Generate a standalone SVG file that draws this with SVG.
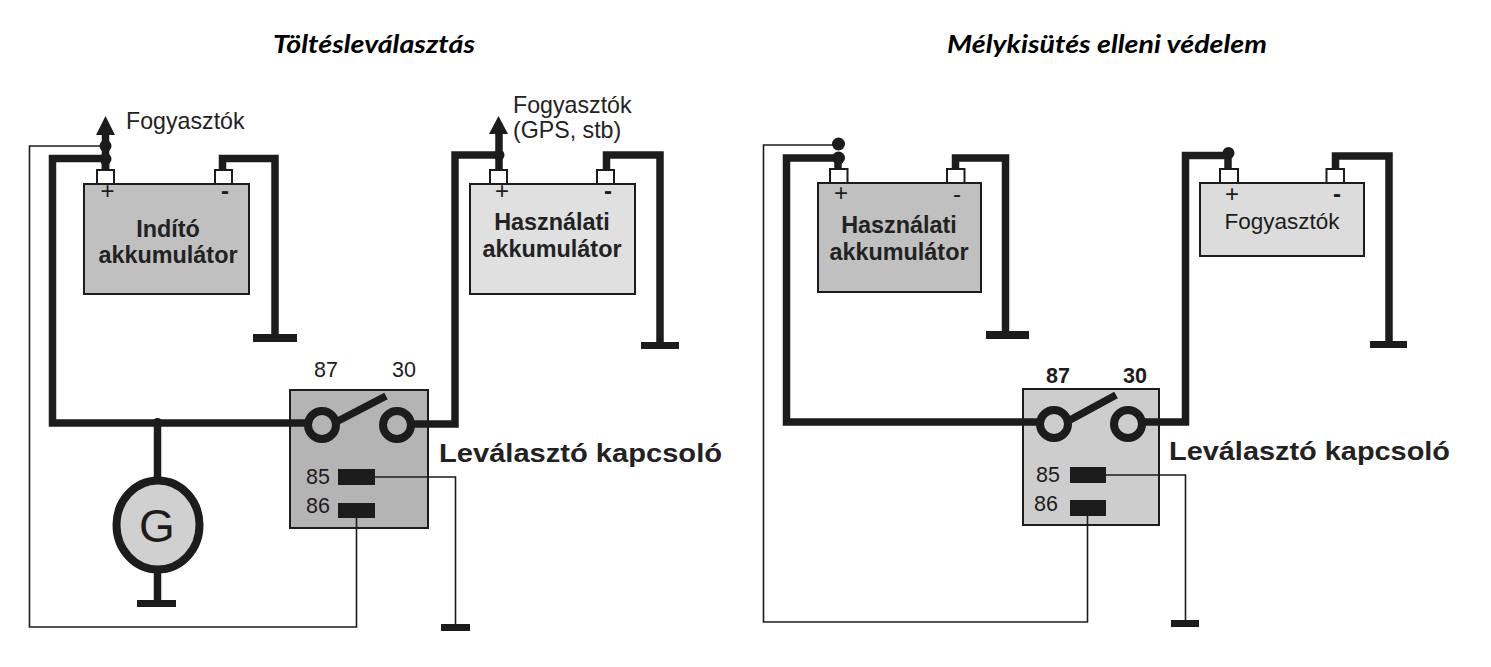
<svg xmlns="http://www.w3.org/2000/svg" width="1491" height="667" viewBox="0 0 1491 667">
<style>
text{font-family:"Liberation Sans",Arial,sans-serif;fill:#1c1c1c}
.title{font-family:Lato,"Liberation Sans",sans-serif;font-weight:700;font-style:italic;font-size:24px;fill:#000}
.lbl{font-size:23.200px;fill:#222}
.num{font-size:21.500px;text-anchor:middle}
.numb{font-size:21.500px;font-weight:700;text-anchor:middle}
.batt{font-size:23.400px;font-weight:700;text-anchor:middle;fill:#222}
.rel{font-size:25px;font-weight:700;fill:#222}
.sign{font-size:24px;text-anchor:middle}
.box{stroke:#1c1c1c;stroke-width:2}
.term{fill:#fff;stroke:#1c1c1c;stroke-width:2}
.thick{fill:none;stroke:#1c1c1c;stroke-width:7.500}
.thin{fill:none;stroke:#1c1c1c;stroke-width:1.600}
.blk{fill:#1c1c1c}
.ring{fill:none;stroke:#1c1c1c;stroke-width:8}
</style>
<text class="title" x="273" y="53" textLength="202" lengthAdjust="spacingAndGlyphs">Töltésleválasztás</text>
<text class="title" x="947" y="53" textLength="320" lengthAdjust="spacingAndGlyphs">Mélykisütés elleni védelem</text>

<g id="battery-indito">
<rect class="box" x="84" y="184" width="165" height="110" fill="#c0c0c0"/>
<rect class="term" x="97" y="170" width="17" height="14"/><rect class="term" x="215" y="170" width="17" height="14"/>
<text class="sign" x="107.500" y="199">+</text><text class="sign" x="225" y="199" font-weight="700">-</text>
<text class="batt" x="168" y="237">Indító</text><text class="batt" x="168" y="263">akkumulátor</text>
</g>
<g id="battery-hasznalati-1">
<rect class="box" x="470" y="184" width="165" height="110" fill="#e0e0e0"/>
<rect class="term" x="490" y="170" width="17" height="14"/><rect class="term" x="597" y="170" width="17" height="14"/>
<text class="sign" x="502" y="199">+</text><text class="sign" x="608" y="199" font-weight="700">-</text>
<text class="batt" x="552" y="230">Használati</text><text class="batt" x="552" y="257">akkumulátor</text>
</g>
<g id="label-fogyasztok-1"><text class="lbl" x="126" y="129">Fogyasztók</text></g>
<g id="label-fogyasztok-2"><text class="lbl" x="513" y="113">Fogyasztók</text><text class="lbl" x="513" y="138">(GPS, stb)</text></g>

<g id="relay-1">
<rect class="box" x="290" y="390" width="138" height="138" fill="#b4b4b4"/>
<circle class="ring" cx="322" cy="425" r="14"/><circle class="ring" cx="397" cy="425" r="14"/>
<path class="thick" d="M338 421L386 396"/>
<rect class="blk" x="338" y="469" width="37" height="16"/><rect class="blk" x="338" y="503" width="37" height="15"/>
<text class="num" x="326" y="377">87</text><text class="num" x="404" y="377">30</text>
<text class="num" x="318" y="484">85</text><text class="num" x="318" y="513">86</text>
<text class="rel" x="439" y="462" textLength="283" lengthAdjust="spacingAndGlyphs">Leválasztó kapcsoló</text>
</g>
<g id="generator">
<ellipse cx="158" cy="525" rx="41.500" ry="44.500" fill="#d0d0d0" stroke="#1c1c1c" stroke-width="8"/>
<text x="157" y="542" font-size="46" text-anchor="middle">G</text>
</g>

<g id="battery-hasznalati-2">
<rect class="box" x="818" y="183" width="163" height="109" fill="#c0c0c0"/>
<rect class="term" x="830" y="169" width="17.500" height="14"/><rect class="term" x="947" y="169" width="17.500" height="14"/>
<text class="sign" x="841" y="201">+</text><text class="sign" x="957" y="202">-</text>
<text class="batt" x="899" y="233">Használati</text><text class="batt" x="899" y="260">akkumulátor</text>
</g>
<g id="box-fogyasztok">
<rect class="box" x="1200" y="183" width="164" height="73" fill="#dcdcdc"/>
<rect class="term" x="1220" y="169" width="18" height="14"/><rect class="term" x="1326.500" y="169" width="17.500" height="14"/>
<text class="sign" x="1232" y="202">+</text><text class="sign" x="1337" y="202" font-weight="700">-</text>
<text x="1282" y="229" font-size="22.500" text-anchor="middle" fill="#333">Fogyasztók</text>
</g>
<g id="relay-2">
<rect class="box" x="1023" y="389" width="136" height="136" fill="#cdcdcd"/>
<circle class="ring" cx="1054" cy="424" r="14"/><circle class="ring" cx="1128" cy="424" r="14"/>
<path class="thick" d="M1070 420L1116 395"/>
<rect class="blk" x="1070" y="467" width="36" height="16"/><rect class="blk" x="1070" y="500" width="36" height="16"/>
<text class="numb" x="1058" y="383">87</text><text class="numb" x="1135" y="383">30</text>
<text class="num" x="1048" y="482">85</text><text class="num" x="1046" y="511">86</text>
<text class="rel" x="1169" y="460" textLength="281" lengthAdjust="spacingAndGlyphs">Leválasztó kapcsoló</text>
</g>

<g id="connectors">
<path class="thick" d="M105.500 169V158.500H52.500V423H306"/>
<path class="thick" d="M105.500 169V130"/>
<path class="thick" d="M222.500 169V158.500H275V338"/>
<path class="thick" d="M157.500 423V480M157.500 572V604"/>
<path class="thick" d="M413 424H455V155H499V169M499 155V130"/>
<path class="thick" d="M606.500 169V155H660V345"/>
<path class="thin" d="M105 146H29.500V627H356.500V518"/>
<path class="thin" d="M375 477H455.500V627"/>
<path class="thick" d="M838 168V158H786.500V422H1038"/>
<path class="thick" d="M955.500 168V158H1005.500V335"/>
<path class="thick" d="M1144 422H1185.500V155.500H1228V168"/>
<path class="thick" d="M1335.500 168V156H1389V343"/>
<path class="thin" d="M838 145H763.500V622H1087.500V516"/>
<path class="thin" d="M1106 475H1185.500V622"/>
<g class="blk">
<polygon points="105.500,116 115,135 96,135"/>
<polygon points="498.500,116 508,134 489,134"/>
<circle cx="105.500" cy="146" r="6"/><circle cx="105.500" cy="159" r="6"/>
<circle cx="157.500" cy="423" r="5"/>
<circle cx="499" cy="155" r="5.500"/>
<circle cx="838.500" cy="144" r="6.500"/><circle cx="838.500" cy="158" r="6.500"/>
<circle cx="1228.500" cy="153" r="6"/>
<rect x="253" y="334" width="44" height="8"/>
<rect x="137" y="600" width="39" height="7"/>
<rect x="641" y="342" width="38" height="7"/>
<rect x="441" y="624" width="29" height="7"/>
<rect x="986" y="331" width="43" height="8"/>
<rect x="1370" y="341" width="37" height="7"/>
<rect x="1171" y="620" width="28" height="7"/>
</g>
</g>
</svg>
